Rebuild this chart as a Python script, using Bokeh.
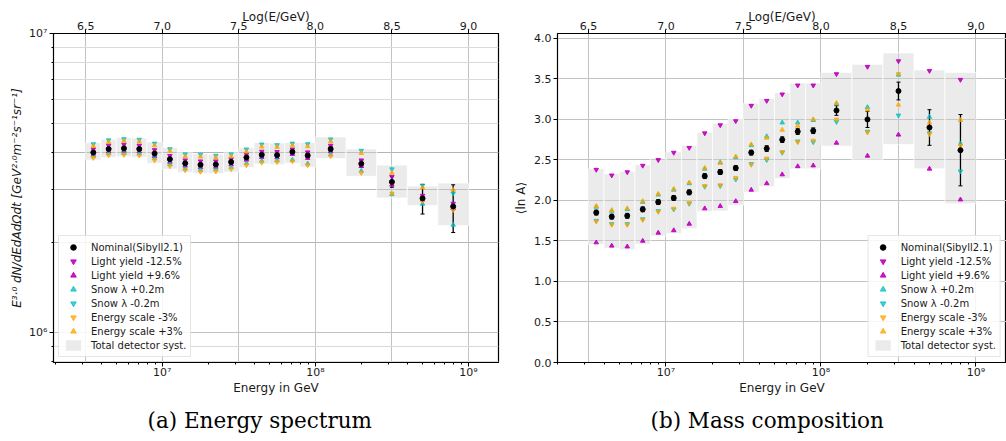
from bokeh.plotting import figure
from bokeh.models import (Range1d, LinearScale, LinearAxis, FixedTicker, NumeralTickFormatter,
                          Grid, Legend, LegendItem, Title)
from bokeh.layouts import row
from bokeh.embed import file_html
from bokeh.resources import INLINE

# ---------------- binning (log10(E/GeV)) ----------------
log_lo = [6.5, 6.6, 6.7, 6.8, 6.9, 7.0, 7.1, 7.2, 7.3, 7.4, 7.5, 7.6, 7.7, 7.8, 7.9,
          8.0, 8.2, 8.4, 8.6, 8.8]
log_hi = [6.6, 6.7, 6.8, 6.9, 7.0, 7.1, 7.2, 7.3, 7.4, 7.5, 7.6, 7.7, 7.8, 7.9, 8.0,
          8.2, 8.4, 8.6, 8.8, 9.0]
log_center = [6.55, 6.65, 6.75, 6.85, 6.95, 7.05, 7.15, 7.25, 7.35, 7.45, 7.55, 7.65,
              7.75, 7.85, 7.95, 8.1, 8.3, 8.5, 8.7, 8.9]

# ---------------- ticks ----------------
top_ticks = [6.5, 7.0, 7.5, 8.0, 8.5, 9.0]
energy_ticks = [1e7, 1e8, 1e9]
energy_labels = ["10⁷", "10⁸", "10⁹"]
energy_minor = [2e6, 3e6, 4e6, 5e6, 6e6, 7e6, 8e6, 9e6,
                2e7, 3e7, 4e7, 5e7, 6e7, 7e7, 8e7, 9e7,
                2e8, 3e8, 4e8, 5e8, 6e8, 7e8, 8e8, 9e8]
flux_ticks = [1e6, 1e7]
flux_labels = ["10⁶", "10⁷"]
flux_minor = [8e5, 9e5, 2e6, 3e6, 4e6, 5e6, 6e6, 7e6, 8e6, 9e6]
lnA_ticks = [0.0, 0.5, 1.0, 1.5, 2.0, 2.5, 3.0, 3.5, 4.0]

legend_labels = ["Nominal(Sibyll2.1)", "Light yield -12.5%", "Light yield +9.6%",
                 "Snow λ +0.2m", "Snow λ -0.2m", "Energy scale -3%", "Energy scale +3%",
                 "Total detector syst."]

# ---------------- (a) energy spectrum, E^3 dN/dE ----------------
flux_nominal = [4.00e6, 4.11e6, 4.13e6, 4.11e6, 3.97e6, 3.80e6, 3.68e6, 3.64e6, 3.65e6, 3.72e6,
                3.85e6, 3.93e6, 3.92e6, 4.02e6, 3.91e6, 4.11e6, 3.67e6, 3.19e6, 2.81e6, 2.64e6]
flux_err = [0.03e6, 0.03e6, 0.03e6, 0.03e6, 0.03e6, 0.03e6, 0.03e6, 0.03e6, 0.03e6, 0.03e6,
            0.04e6, 0.04e6, 0.04e6, 0.05e6, 0.05e6, 0.07e6, 0.10e6, 0.13e6, 0.32e6, 0.48e6]
flux_ly_minus = [4.10e6, 4.22e6, 4.25e6, 4.22e6, 4.08e6, 3.90e6, 3.77e6, 3.74e6, 3.74e6, 3.80e6,
                 3.94e6, 4.03e6, 4.02e6, 4.10e6, 4.01e6, 4.22e6, 3.77e6, 3.32e6, 2.87e6, 2.70e6]
flux_ly_plus = [3.92e6, 4.03e6, 4.05e6, 4.03e6, 3.89e6, 3.72e6, 3.61e6, 3.57e6, 3.58e6, 3.65e6,
                3.78e6, 3.86e6, 3.85e6, 3.95e6, 3.83e6, 4.03e6, 3.60e6, 3.12e6, 2.78e6, 2.60e6]
flux_snow_plus = [3.88e6, 3.97e6, 3.98e6, 3.96e6, 3.82e6, 3.65e6, 3.53e6, 3.50e6, 3.51e6, 3.57e6,
                  3.68e6, 3.75e6, 3.76e6, 3.78e6, 3.67e6, 3.93e6, 3.47e6, 2.90e6, 2.69e6, 2.29e6]
flux_snow_minus = [4.27e6, 4.40e6, 4.44e6, 4.42e6, 4.29e6, 4.11e6, 3.95e6, 3.94e6, 3.91e6, 3.95e6,
                   4.10e6, 4.26e6, 4.24e6, 4.29e6, 4.27e6, 4.43e6, 4.06e6, 3.52e6, 3.10e6, 2.92e6]
flux_escale_minus = [3.84e6, 3.92e6, 3.93e6, 3.91e6, 3.77e6, 3.60e6, 3.49e6, 3.45e6, 3.46e6, 3.52e6,
                     3.63e6, 3.70e6, 3.72e6, 3.74e6, 3.63e6, 3.89e6, 3.42e6, 2.92e6, 2.75e6, 2.57e6]
flux_escale_plus = [4.20e6, 4.33e6, 4.37e6, 4.35e6, 4.22e6, 4.04e6, 3.88e6, 3.87e6, 3.85e6, 3.88e6,
                    4.03e6, 4.18e6, 4.17e6, 4.22e6, 4.19e6, 4.36e6, 3.98e6, 3.42e6, 3.05e6, 3.00e6]
flux_syst_lo = [3.77e6, 3.85e6, 3.87e6, 3.85e6, 3.68e6, 3.52e6, 3.43e6, 3.40e6, 3.40e6, 3.44e6,
                3.56e6, 3.66e6, 3.65e6, 3.68e6, 3.57e6, 3.82e6, 3.33e6, 2.82e6, 2.66e6, 2.28e6]
flux_syst_hi = [4.32e6, 4.43e6, 4.49e6, 4.47e6, 4.34e6, 4.16e6, 3.99e6, 3.97e6, 3.95e6, 3.99e6,
                4.15e6, 4.32e6, 4.30e6, 4.32e6, 4.32e6, 4.51e6, 4.11e6, 3.63e6, 3.09e6, 3.16e6]

# ---------------- (b) mass composition <lnA> ----------------
lnA_nominal = [1.85, 1.80, 1.81, 1.89, 1.98, 2.03, 2.10, 2.30, 2.35, 2.40,
               2.59, 2.64, 2.75, 2.85, 2.86, 3.11, 3.00, 3.35, 2.90, 2.62]
lnA_err = [0.03, 0.03, 0.03, 0.03, 0.03, 0.03, 0.03, 0.03, 0.03, 0.03,
           0.03, 0.035, 0.035, 0.035, 0.035, 0.06, 0.10, 0.11, 0.22, 0.44]
lnA_ly_minus = [2.38, 2.31, 2.35, 2.43, 2.50, 2.59, 2.65, 2.83, 2.93, 2.98,
                3.17, 3.23, 3.31, 3.42, 3.42, 3.56, 3.65, 3.72, 3.60, 3.49]
lnA_ly_plus = [1.48, 1.44, 1.43, 1.50, 1.60, 1.63, 1.71, 1.90, 1.93, 1.99,
               2.13, 2.21, 2.32, 2.42, 2.43, 2.71, 2.55, 2.81, 2.39, 2.01]
lnA_snow_plus = [1.92, 1.87, 1.89, 1.98, 2.07, 2.13, 2.21, 2.39, 2.47, 2.53,
                 2.68, 2.79, 2.96, 2.96, 2.99, 3.19, 3.15, 3.55, 3.03, 2.70]
lnA_snow_minus = [1.75, 1.71, 1.71, 1.77, 1.87, 1.89, 1.96, 2.17, 2.18, 2.26,
                  2.45, 2.50, 2.59, 2.73, 2.72, 2.97, 2.85, 3.05, 2.83, 2.36]
lnA_escale_minus = [1.74, 1.70, 1.70, 1.76, 1.86, 1.90, 1.97, 2.18, 2.19, 2.28,
                    2.44, 2.52, 2.60, 2.72, 2.74, 3.00, 2.84, 3.56, 2.82, 2.68]
lnA_escale_plus = [1.93, 1.88, 1.90, 1.99, 2.08, 2.14, 2.22, 2.40, 2.46, 2.54,
                   2.69, 2.77, 2.87, 2.92, 3.00, 3.20, 3.12, 3.18, 2.96, 2.99]
lnA_syst_lo = [1.455, 1.41, 1.39, 1.46, 1.56, 1.59, 1.65, 1.86, 1.87, 1.94,
               2.10, 2.17, 2.27, 2.39, 2.39, 2.67, 2.50, 2.69, 2.39, 1.96]
lnA_syst_hi = [2.39, 2.33, 2.36, 2.44, 2.52, 2.60, 2.68, 2.84, 2.95, 3.00,
               3.20, 3.26, 3.33, 3.45, 3.45, 3.58, 3.68, 3.82, 3.61, 3.58]

MAG = "#bf00bf"
CYA = "#00bfbf"
ORA = "#ffa500"
SANS = "DejaVu Sans"
TXT = "#1a1a1a"
H = 441


def style_axis(ax, label_size="11px"):
    ax.axis_line_color = "black"
    ax.major_tick_out = 4
    ax.major_tick_in = 0
    ax.minor_tick_out = 2
    ax.minor_tick_in = 0
    ax.major_tick_line_color = "black"
    ax.minor_tick_line_color = "black"
    ax.major_label_text_font = SANS
    ax.major_label_text_font_size = label_size
    ax.major_label_text_color = TXT
    ax.major_label_standoff = 1
    ax.axis_label_text_font = SANS
    ax.axis_label_text_font_size = "12px"
    ax.axis_label_text_font_style = "normal"
    ax.axis_label_text_color = TXT
    ax.axis_label_standoff = 0


def make_panel(width, b_left, b_right, lx0, lx1, y_range, y_log, caption, cap_offset):
    p = figure(width=width, height=H, x_axis_type="log",
               y_axis_type=("log" if y_log else "linear"),
               x_range=Range1d(10 ** lx0, 10 ** lx1), y_range=y_range,
               output_backend="svg", toolbar_location=None,
               min_border_left=b_left, min_border_right=b_right,
               min_border_top=33, min_border_bottom=H - 363,
               background_fill_color="white", border_fill_color="white")
    p.outline_line_color = "black"
    p.outline_line_width = 1.2
    p.outline_line_alpha = 1.0

    # bottom axis: energy
    xa = p.xaxis[0]
    xa.ticker = FixedTicker(ticks=energy_ticks, minor_ticks=energy_minor)
    xa.major_label_overrides = dict(zip(energy_ticks, energy_labels))
    style_axis(xa)
    xa.major_label_standoff = -1
    xa.axis_label = "Energy in GeV"
    xa.axis_label_standoff = -1

    # top axis: log10(E/GeV)
    p.extra_x_ranges = {"lg": Range1d(lx0, lx1)}
    p.extra_x_scales = {"lg": LinearScale()}
    top = LinearAxis(x_range_name="lg", ticker=FixedTicker(ticks=top_ticks),
                     formatter=NumeralTickFormatter(format="0.0"))
    style_axis(top)
    top.minor_tick_out = 0
    top.major_label_standoff = 0
    top.axis_label = "Log(E/GeV)"
    top.axis_label_standoff = -5
    p.add_layout(top, "above")

    # caption below
    cap = Title(text=caption, align="left", offset=cap_offset, standoff=17,
                text_font="DejaVu Serif", text_font_size="21.5px",
                text_font_style="normal", text_color="black")
    p.add_layout(cap, "below")

    # vertical grid lines at half decades
    p.xgrid.ticker = FixedTicker(ticks=[10 ** t for t in top_ticks])
    p.xgrid.grid_line_color = "#c2c2c2"
    p.xgrid.grid_line_width = 1
    return p


def draw_data(p, nominal, err, ly_m, ly_p, sn_p, sn_m, e_m, e_p, s_lo, s_hi, loc):
    xc = [10 ** v for v in log_center]
    box = p.quad(left=[10 ** v for v in log_lo], right=[10 ** v for v in log_hi],
                 bottom=s_lo, top=s_hi, fill_color="#cfcfcf", fill_alpha=0.42,
                 line_color="white", line_alpha=0.7, line_width=1)
    lo = [n - e for n, e in zip(nominal, err)]
    hi = [n + e for n, e in zip(nominal, err)]
    p.segment(x0=xc, y0=lo, x1=xc, y1=hi, line_color="black", line_width=1.3)
    p.scatter(xc, lo, marker="dash", size=4, line_color="black", line_width=1)
    p.scatter(xc, hi, marker="dash", size=4, line_color="black", line_width=1)

    def tri(vals, marker, color, alpha):
        return p.scatter(xc, vals, marker=marker, size=4.5, fill_color=color,
                         line_color=color, fill_alpha=alpha, line_alpha=alpha)

    r_lym = tri(ly_m, "inverted_triangle", MAG, 0.9)
    r_lyp = tri(ly_p, "triangle", MAG, 0.9)
    r_snp = tri(sn_p, "triangle", CYA, 0.75)
    r_snm = tri(sn_m, "inverted_triangle", CYA, 0.75)
    r_em = tri(e_m, "inverted_triangle", ORA, 0.75)
    r_ep = tri(e_p, "triangle", ORA, 0.75)
    r_nom = p.scatter(xc, nominal, marker="circle", size=5, fill_color="black", line_color="black")

    renderers = [[r_nom], [r_lym], [r_lyp], [r_snp], [r_snm], [r_em], [r_ep], [box]]
    items = [LegendItem(label=l, renderers=r) for l, r in zip(legend_labels, renderers)]
    leg = Legend(items=items, location=loc)
    leg.label_text_font = SANS
    leg.label_text_font_size = "10px"
    leg.label_text_color = TXT
    leg.label_height = 14
    leg.glyph_height = 14
    leg.glyph_width = 20
    leg.label_standoff = 8
    leg.spacing = 0
    leg.padding = 4
    leg.margin = 5
    leg.border_line_color = "#cccccc"
    leg.border_line_width = 1
    leg.background_fill_color = "white"
    leg.background_fill_alpha = 0.85
    p.add_layout(leg)


# ---------------- panel (a) ----------------
p1 = make_panel(502, 53, 4, 6.29, 9.196, Range1d(7.94e5, 1e7), True,
                "(a) Energy spectrum", 94)
ya = p1.yaxis[0]
ya.ticker = FixedTicker(ticks=flux_ticks, minor_ticks=flux_minor)
ya.major_label_overrides = dict(zip(flux_ticks, flux_labels))
style_axis(ya)
ya.major_label_standoff = 2
ya.axis_label = "E³·⁰ dN/dEdAdΩdt [GeV²·⁰m⁻²s⁻¹sr⁻¹]"
ya.axis_label_text_font_style = "italic"
ya.axis_label_standoff = 2
p1.ygrid.ticker = FixedTicker(ticks=flux_ticks, minor_ticks=flux_minor)
p1.ygrid.grid_line_color = "#c2c2c2"
p1.ygrid.minor_grid_line_color = "#dadada"
p1.add_layout(Grid(dimension=1, ticker=FixedTicker(ticks=[2e6, 3e6, 4e6]),
                   grid_line_color="#b5b5b5"))
draw_data(p1, flux_nominal, flux_err, flux_ly_minus, flux_ly_plus, flux_snow_plus,
          flux_snow_minus, flux_escale_minus, flux_escale_plus, flux_syst_lo, flux_syst_hi,
          "bottom_left")

# ---------------- panel (b) ----------------
p2 = make_panel(504, 55, 0, 6.30, 9.197, Range1d(0, 4.06), False,
                "(b) Mass composition", 93)
yb = p2.yaxis[0]
yb.ticker = FixedTicker(ticks=lnA_ticks)
yb.formatter = NumeralTickFormatter(format="0.0")
style_axis(yb)
yb.major_label_standoff = 2
yb.axis_label = "⟨ln A⟩"
yb.axis_label_standoff = 3
p2.ygrid.ticker = FixedTicker(ticks=lnA_ticks)
p2.ygrid.grid_line_color = "#c2c2c2"
draw_data(p2, lnA_nominal, lnA_err, lnA_ly_minus, lnA_ly_plus, lnA_snow_plus,
          lnA_snow_minus, lnA_escale_minus, lnA_escale_plus, lnA_syst_lo, lnA_syst_hi,
          "bottom_right")

layout = row(p1, p2, spacing=0)
open("out.html", "w").write(file_html(layout, INLINE))
